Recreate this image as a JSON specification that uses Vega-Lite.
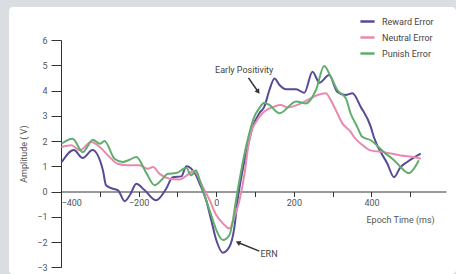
{
  "$schema": "https://vega.github.io/schema/vega-lite/v6.json",
  "width": 447,
  "height": 267,
  "autosize": "none",
  "padding": {"left": 9, "top": 7, "right": 0, "bottom": 0},
  "background": "#dadde1",
  "config": {
    "font": "Roboto",
    "view": {"fill": "#ffffff", "stroke": null, "cornerRadius": 4},
    "axis": {"grid": false, "domainColor": "#333333", "tickColor": "#333333", "labelColor": "#555555", "labelFontSize": 9, "titleFontSize": 9, "titleFontWeight": "normal", "titleColor": "#555555", "labelFont": "Roboto", "titleFont": "Roboto"},
    "legend": {"labelFontSize": 9, "labelColor": "#444444", "labelFont": "Roboto"}
  },
  "datasets": {
    "curves": [
      {"series": "Reward Error", "time": -398, "amp": 1.17},
      {"series": "Reward Error", "time": -367, "amp": 1.64},
      {"series": "Reward Error", "time": -344, "amp": 1.33},
      {"series": "Reward Error", "time": -319, "amp": 1.64},
      {"series": "Reward Error", "time": -292, "amp": 0.84},
      {"series": "Reward Error", "time": -284, "amp": 0.25},
      {"series": "Reward Error", "time": -266, "amp": 0.11},
      {"series": "Reward Error", "time": -253, "amp": 0.05},
      {"series": "Reward Error", "time": -236, "amp": -0.38},
      {"series": "Reward Error", "time": -221, "amp": -0.10},
      {"series": "Reward Error", "time": -206, "amp": 0.31},
      {"series": "Reward Error", "time": -185, "amp": 0.06},
      {"series": "Reward Error", "time": -155, "amp": -0.35},
      {"series": "Reward Error", "time": -129, "amp": 0.11},
      {"series": "Reward Error", "time": -112, "amp": 0.57},
      {"series": "Reward Error", "time": -90, "amp": 0.60},
      {"series": "Reward Error", "time": -77, "amp": 1.00},
      {"series": "Reward Error", "time": -52, "amp": 0.64},
      {"series": "Reward Error", "time": -43, "amp": 0.32},
      {"series": "Reward Error", "time": -26, "amp": -0.34},
      {"series": "Reward Error", "time": -13, "amp": -1.13},
      {"series": "Reward Error", "time": 0, "amp": -1.92},
      {"series": "Reward Error", "time": 17, "amp": -2.42},
      {"series": "Reward Error", "time": 34, "amp": -2.19},
      {"series": "Reward Error", "time": 47, "amp": -1.39},
      {"series": "Reward Error", "time": 55, "amp": -0.34},
      {"series": "Reward Error", "time": 68, "amp": 0.85},
      {"series": "Reward Error", "time": 81, "amp": 1.77},
      {"series": "Reward Error", "time": 94, "amp": 2.57},
      {"series": "Reward Error", "time": 111, "amp": 3.10},
      {"series": "Reward Error", "time": 124, "amp": 3.36},
      {"series": "Reward Error", "time": 137, "amp": 4.02},
      {"series": "Reward Error", "time": 150, "amp": 4.48},
      {"series": "Reward Error", "time": 163, "amp": 4.22},
      {"series": "Reward Error", "time": 180, "amp": 4.05},
      {"series": "Reward Error", "time": 206, "amp": 4.05},
      {"series": "Reward Error", "time": 227, "amp": 3.91},
      {"series": "Reward Error", "time": 248, "amp": 4.74},
      {"series": "Reward Error", "time": 266, "amp": 4.31},
      {"series": "Reward Error", "time": 291, "amp": 4.61},
      {"series": "Reward Error", "time": 312, "amp": 3.94},
      {"series": "Reward Error", "time": 333, "amp": 3.82},
      {"series": "Reward Error", "time": 351, "amp": 3.89},
      {"series": "Reward Error", "time": 372, "amp": 3.36},
      {"series": "Reward Error", "time": 398, "amp": 2.57},
      {"series": "Reward Error", "time": 406, "amp": 2.16},
      {"series": "Reward Error", "time": 441, "amp": 1.10},
      {"series": "Reward Error", "time": 458, "amp": 0.57},
      {"series": "Reward Error", "time": 475, "amp": 0.97},
      {"series": "Reward Error", "time": 492, "amp": 1.17},
      {"series": "Reward Error", "time": 509, "amp": 1.34},
      {"series": "Reward Error", "time": 527, "amp": 1.50},
      {"series": "Neutral Error", "time": -399, "amp": 1.76},
      {"series": "Neutral Error", "time": -373, "amp": 1.83},
      {"series": "Neutral Error", "time": -352, "amp": 1.63},
      {"series": "Neutral Error", "time": -322, "amp": 1.96},
      {"series": "Neutral Error", "time": -300, "amp": 1.76},
      {"series": "Neutral Error", "time": -275, "amp": 1.37},
      {"series": "Neutral Error", "time": -254, "amp": 1.10},
      {"series": "Neutral Error", "time": -228, "amp": 1.04},
      {"series": "Neutral Error", "time": -198, "amp": 1.04},
      {"series": "Neutral Error", "time": -176, "amp": 0.90},
      {"series": "Neutral Error", "time": -163, "amp": 0.97},
      {"series": "Neutral Error", "time": -146, "amp": 0.70},
      {"series": "Neutral Error", "time": -120, "amp": 0.51},
      {"series": "Neutral Error", "time": -95, "amp": 0.48},
      {"series": "Neutral Error", "time": -72, "amp": 0.68},
      {"series": "Neutral Error", "time": -58, "amp": 0.82},
      {"series": "Neutral Error", "time": -35, "amp": 0.19},
      {"series": "Neutral Error", "time": -17, "amp": -0.34},
      {"series": "Neutral Error", "time": 0, "amp": -0.93},
      {"series": "Neutral Error", "time": 17, "amp": -1.26},
      {"series": "Neutral Error", "time": 34, "amp": -1.46},
      {"series": "Neutral Error", "time": 47, "amp": -1.00},
      {"series": "Neutral Error", "time": 60, "amp": -0.34},
      {"series": "Neutral Error", "time": 73, "amp": 0.72},
      {"series": "Neutral Error", "time": 81, "amp": 1.64},
      {"series": "Neutral Error", "time": 90, "amp": 2.37},
      {"series": "Neutral Error", "time": 103, "amp": 2.76},
      {"series": "Neutral Error", "time": 111, "amp": 2.95},
      {"series": "Neutral Error", "time": 123, "amp": 3.16},
      {"series": "Neutral Error", "time": 149, "amp": 3.36},
      {"series": "Neutral Error", "time": 166, "amp": 3.43},
      {"series": "Neutral Error", "time": 183, "amp": 3.33},
      {"series": "Neutral Error", "time": 209, "amp": 3.43},
      {"series": "Neutral Error", "time": 235, "amp": 3.62},
      {"series": "Neutral Error", "time": 261, "amp": 3.82},
      {"series": "Neutral Error", "time": 282, "amp": 3.89},
      {"series": "Neutral Error", "time": 295, "amp": 3.62},
      {"series": "Neutral Error", "time": 308, "amp": 3.23},
      {"series": "Neutral Error", "time": 325, "amp": 2.70},
      {"series": "Neutral Error", "time": 346, "amp": 2.37},
      {"series": "Neutral Error", "time": 355, "amp": 2.16},
      {"series": "Neutral Error", "time": 376, "amp": 1.85},
      {"series": "Neutral Error", "time": 398, "amp": 1.63},
      {"series": "Neutral Error", "time": 432, "amp": 1.56},
      {"series": "Neutral Error", "time": 475, "amp": 1.43},
      {"series": "Neutral Error", "time": 518, "amp": 1.34},
      {"series": "Neutral Error", "time": 527, "amp": 1.30},
      {"series": "Punish Error", "time": -399, "amp": 1.89},
      {"series": "Punish Error", "time": -370, "amp": 2.09},
      {"series": "Punish Error", "time": -344, "amp": 1.56},
      {"series": "Punish Error", "time": -318, "amp": 2.05},
      {"series": "Punish Error", "time": -300, "amp": 1.89},
      {"series": "Punish Error", "time": -288, "amp": 2.00},
      {"series": "Punish Error", "time": -262, "amp": 1.30},
      {"series": "Punish Error", "time": -241, "amp": 1.17},
      {"series": "Punish Error", "time": -223, "amp": 1.26},
      {"series": "Punish Error", "time": -206, "amp": 1.37},
      {"series": "Punish Error", "time": -180, "amp": 0.73},
      {"series": "Punish Error", "time": -159, "amp": 0.25},
      {"series": "Punish Error", "time": -138, "amp": 0.51},
      {"series": "Punish Error", "time": -125, "amp": 0.70},
      {"series": "Punish Error", "time": -103, "amp": 0.73},
      {"series": "Punish Error", "time": -77, "amp": 0.94},
      {"series": "Punish Error", "time": -65, "amp": 0.64},
      {"series": "Punish Error", "time": -52, "amp": 0.84},
      {"series": "Punish Error", "time": -43, "amp": 0.46},
      {"series": "Punish Error", "time": -26, "amp": -0.34},
      {"series": "Punish Error", "time": -13, "amp": -0.93},
      {"series": "Punish Error", "time": 0, "amp": -1.52},
      {"series": "Punish Error", "time": 17, "amp": -1.92},
      {"series": "Punish Error", "time": 34, "amp": -1.72},
      {"series": "Punish Error", "time": 43, "amp": -1.13},
      {"series": "Punish Error", "time": 51, "amp": -0.34},
      {"series": "Punish Error", "time": 60, "amp": 0.46},
      {"series": "Punish Error", "time": 73, "amp": 1.51},
      {"series": "Punish Error", "time": 85, "amp": 2.30},
      {"series": "Punish Error", "time": 98, "amp": 2.96},
      {"series": "Punish Error", "time": 111, "amp": 3.30},
      {"series": "Punish Error", "time": 124, "amp": 3.52},
      {"series": "Punish Error", "time": 137, "amp": 3.43},
      {"series": "Punish Error", "time": 163, "amp": 3.10},
      {"series": "Punish Error", "time": 206, "amp": 3.56},
      {"series": "Punish Error", "time": 231, "amp": 3.49},
      {"series": "Punish Error", "time": 257, "amp": 4.02},
      {"series": "Punish Error", "time": 278, "amp": 4.97},
      {"series": "Punish Error", "time": 295, "amp": 4.55},
      {"series": "Punish Error", "time": 312, "amp": 4.02},
      {"series": "Punish Error", "time": 334, "amp": 3.69},
      {"series": "Punish Error", "time": 346, "amp": 3.10},
      {"series": "Punish Error", "time": 363, "amp": 2.57},
      {"series": "Punish Error", "time": 376, "amp": 2.17},
      {"series": "Punish Error", "time": 398, "amp": 2.03},
      {"series": "Punish Error", "time": 432, "amp": 1.56},
      {"series": "Punish Error", "time": 458, "amp": 1.24},
      {"series": "Punish Error", "time": 475, "amp": 0.97},
      {"series": "Punish Error", "time": 496, "amp": 0.73},
      {"series": "Punish Error", "time": 509, "amp": 0.90},
      {"series": "Punish Error", "time": 522, "amp": 1.24}
    ],
    "arrows": [
      {"label": "Early Positivity", "time": 83, "amp": 4.5, "time2": 108, "amp2": 3.95},
      {"label": "ERN", "time": 111, "amp": -2.36, "time2": 56, "amp2": -2.02}
    ],
    "notes": [
      {"label": "Early Positivity", "time": 72, "amp": 4.8},
      {"label": "ERN", "time": 136, "amp": -2.48}
    ]
  },
  "encoding": {
    "x": {
      "field": "time", "type": "quantitative",
      "scale": {"domain": [-400, 592], "range": [52, 437], "nice": false, "zero": false},
      "axis": {
        "values": [-400, -300, -200, -100, 0, 100, 200, 300, 400, 500],
        "labelExpr": "datum.value % 200 == 0 ? datum.label : ''",
        "offset": -82.5, "tickSize": 5, "labelPadding": 2,
        "labelFlush": true, "labelFlushOffset": 0,
        "title": "Epoch Time (ms)", "titleX": 357, "titleY": 28, "titleAlign": "left", "titleBaseline": "middle", "titleAnchor": null
      }
    },
    "y": {
      "field": "amp", "type": "quantitative",
      "scale": {"domain": [-3, 6], "range": [260.3, 33], "nice": false, "zero": false},
      "axis": {
        "values": [-3, -2, -1, 0, 1, 2, 3, 4, 5, 6],
        "offset": -52, "tickSize": 10, "labelPadding": 4,
        "title": "Amplitude ( V)", "titlePadding": 8
      }
    }
  },
  "layer": [
    {
      "data": {"name": "curves"},
      "mark": {"type": "line", "interpolate": "monotone", "strokeWidth": 2},
      "encoding": {
        "color": {
          "field": "series", "type": "nominal",
          "scale": {"domain": ["Reward Error", "Neutral Error", "Punish Error"], "range": ["#574b97", "#e88aae", "#5fae6c"]},
          "legend": {"title": null, "orient": "none", "legendX": 350, "legendY": 6, "symbolType": "stroke", "symbolSize": 200, "symbolStrokeWidth": 2.5, "rowPadding": 2, "labelOffset": 6, "padding": 0}
        }
      }
    },
    {
      "data": {"name": "arrows"},
      "mark": {"type": "rule", "color": "#333333", "strokeWidth": 1.5},
      "encoding": {
        "x2": {"field": "time2"},
        "y2": {"field": "amp2"}
      }
    },
    {
      "data": {"name": "arrows"},
      "transform": [{"filter": "datum.label == 'Early Positivity'"}],
      "mark": {"type": "point", "shape": "triangle-up", "filled": true, "color": "#333333", "size": 30, "angle": 145, "opacity": 1},
      "encoding": {
        "x": {"field": "time2", "type": "quantitative"},
        "y": {"field": "amp2", "type": "quantitative"}
      }
    },
    {
      "data": {"name": "arrows"},
      "transform": [{"filter": "datum.label == 'ERN'"}],
      "mark": {"type": "point", "shape": "triangle-up", "filled": true, "color": "#333333", "size": 30, "angle": 293, "opacity": 1},
      "encoding": {
        "x": {"field": "time2", "type": "quantitative"},
        "y": {"field": "amp2", "type": "quantitative"}
      }
    },
    {
      "data": {"name": "notes"},
      "mark": {"type": "text", "fontSize": 9, "color": "#444444", "align": "center", "baseline": "middle", "font": "Roboto"},
      "encoding": {
        "text": {"field": "label"}
      }
    }
  ]
}
